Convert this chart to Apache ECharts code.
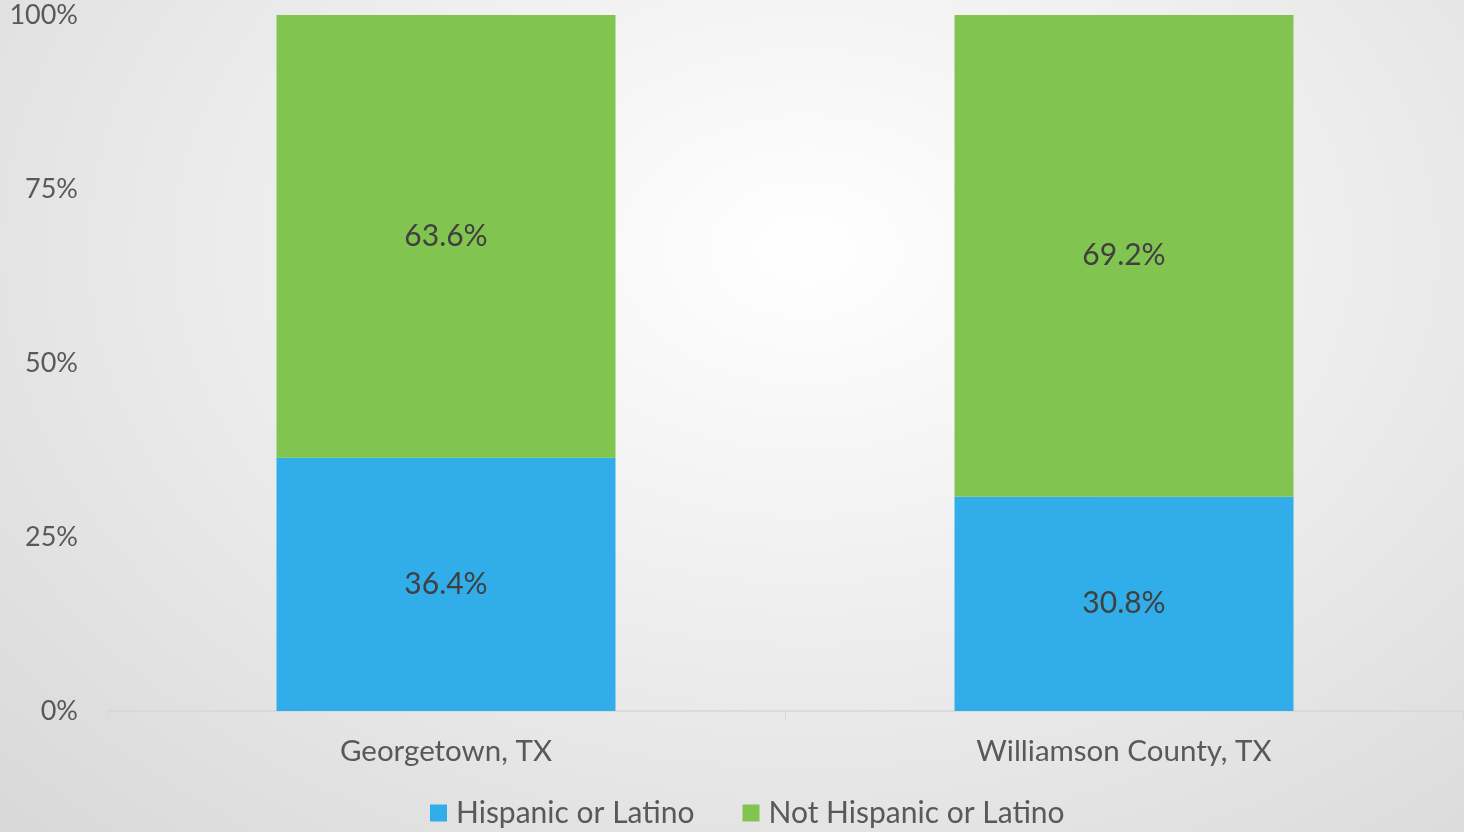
<!DOCTYPE html>
<html>
<head>
<meta charset="utf-8">
<script src="https://cdn.jsdelivr.net/npm/echarts@6/dist/echarts.min.js"></script>
<style>
    * { margin: 0; padding: 0; }
    html, body { width: 100%; height: 100%; }
    #chart {
        width: 1464px;
        height: 832px;
        background: radial-gradient(ellipse at 55% 30%, #ffffff 0%, #f0f0f0 40%, #d8d8d8 100%);
    }
</style>
</head>
<body>
<div id="chart"></div>
<script>
    var places = ['Georgetown, TX', 'Williamson County, TX'];
    var hispanic = [36.4, 30.8];
    var notHispanic = [63.6, 69.2];
    var yTicks = [0, 25, 50, 75, 100];

    var font = 'Lato';
    var textColor = '#595959';

    var chart = echarts.init(document.getElementById('chart'));
    var labelStyle = {
        show: true,
        position: 'inside',
        fontFamily: font,
        fontSize: 30,
        color: '#404040',
        formatter: function (p) { return p.value.toFixed(1) + '%'; }
    };
    var option = {
        animation: false,
        grid: { left: 107, right: 1, top: 15, bottom: 121 },
        legend: {
            bottom: -1,
            left: 425,
            itemWidth: 17,
            itemHeight: 17,
            itemGap: 48,
            icon: 'rect',
            textStyle: { fontFamily: font, fontSize: 30, color: textColor, padding: [0, 0, 0, 4] },
            data: ['Hispanic or Latino', 'Not Hispanic or Latino']
        },
        xAxis: {
            type: 'category',
            data: places,
            axisLine: { lineStyle: { color: '#d6d6d6', width: 1.5 } },
            axisTick: { show: true, length: 8, lineStyle: { color: '#d6d6d6' } },
            axisLabel: { fontFamily: font, fontSize: 29.5, color: textColor, margin: 25 }
        },
        yAxis: {
            type: 'value',
            min: yTicks[0],
            max: yTicks[yTicks.length - 1],
            interval: 25,
            splitLine: { show: false },
            axisLine: { show: false },
            axisTick: { show: false },
            axisLabel: {
                fontFamily: font, fontSize: 27, color: textColor, margin: 29,
                formatter: '{value}%'
            }
        },
        series: [
            {
                name: 'Hispanic or Latino',
                type: 'bar',
                stack: 'all',
                barWidth: '50%',
                itemStyle: { color: '#31adea' },
                label: labelStyle,
                data: hispanic
            },
            {
                name: 'Not Hispanic or Latino',
                type: 'bar',
                stack: 'all',
                barWidth: '50%',
                itemStyle: { color: '#82c450' },
                label: labelStyle,
                data: notHispanic
            }
        ]
    };
    chart.setOption(option);
</script>
</body>
</html>
